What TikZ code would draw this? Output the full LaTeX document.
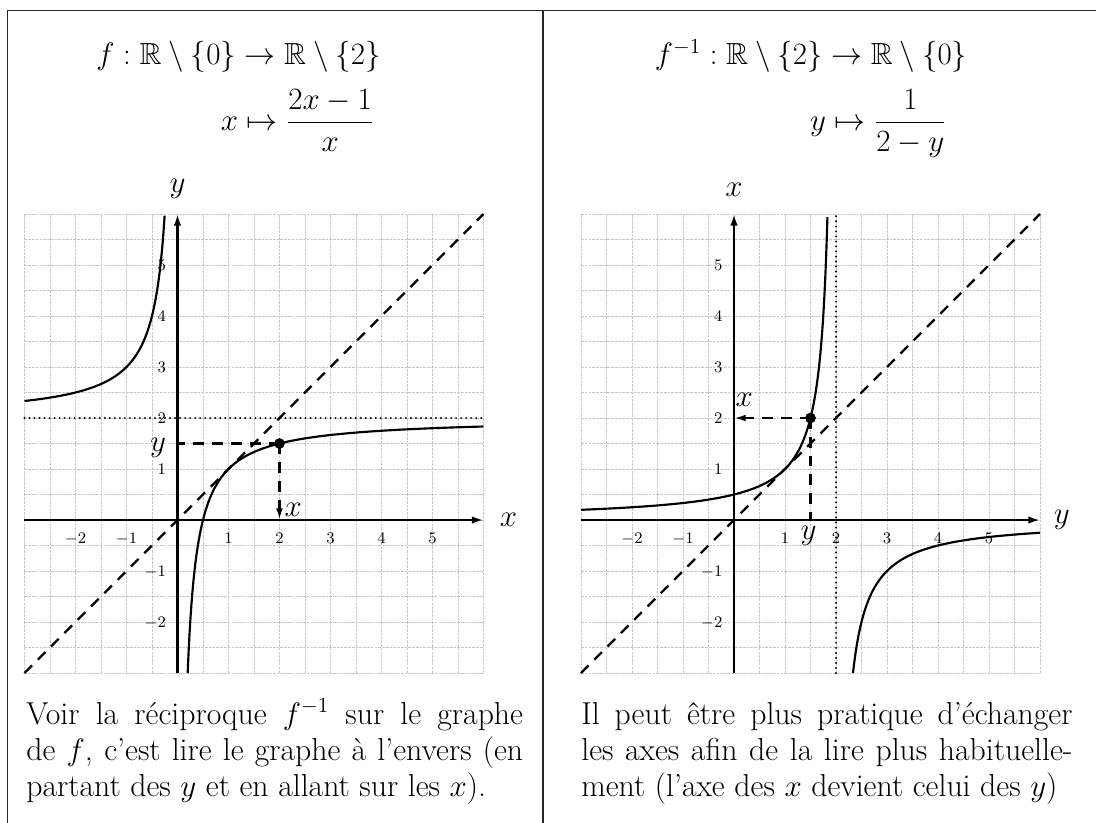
\documentclass[tikz,border=0pt]{standalone}
\usepackage{amsmath,amssymb}
\usetikzlibrary{arrows.meta}
\begin{document}
\begin{tikzpicture}[
  gridline/.style={line width=0.5pt, black!22, dash pattern=on 1.5pt off 0.6pt},
  axisline/.style={line width=1.5pt, -{Latex[length=6.5pt,width=4.2pt]}},
  curve/.style={line width=1.2pt},
  dashline/.style={line width=1.3pt, dash pattern=on 6pt off 4.5pt},
  dotline/.style={line width=1.2pt, line cap=round, dash pattern=on 0pt off 2.8pt},
  tick/.style={font=\fontsize{9.5}{11}\selectfont, inner sep=0pt},
  biglabel/.style={font=\fontsize{19}{22}\selectfont, inner sep=0pt},
  smalllabel/.style={font=\fontsize{16}{18}\selectfont, inner sep=0pt},
  titletext/.style={font=\fontsize{17}{20}\selectfont, inner sep=0pt, anchor=base},
  captionline/.style={font=\fontsize{17.7}{21}\selectfont, inner sep=0pt, anchor=base west},
  frameline/.style={line width=1.1pt, black!85},
  pointdot/.style={circle, fill=black, inner sep=0pt, minimum size=0.21cm},
]
\useasboundingbox (0,0) rectangle (21.490,-16.137);

% frame
\coordinate (fbl) at (0.147,-16.137);
\coordinate (ftl) at (0.147,-0.206);
\coordinate (ftr) at (21.490,-0.206);
\coordinate (fmt) at (10.641,-0.206);
\coordinate (fmb) at (10.641,-16.137);
\draw[frameline] (fbl) -- (ftl) -- (ftr);
\draw[frameline] (fmt) -- (fmb);

% titles
\node[titletext] (t1) at (4.676,-1.27) {$f : \mathbb{R}\setminus\{0\} \to \mathbb{R}\setminus\{2\}$};
\node[titletext] (t2) at (5.833,-2.55) {$x \mapsto \dfrac{2x-1}{x}$};
\node[titletext] (t3) at (15.902,-1.27) {$f^{-1} : \mathbb{R}\setminus\{2\} \to \mathbb{R}\setminus\{0\}$};
\node[titletext] (t4) at (17.222,-2.55) {$y \mapsto \dfrac{1}{2-y}$};

% ---------- left plot ----------
\begin{scope}[shift={(3.480,-10.196)}]
  \draw[gridline] (-3,-3) grid[step=0.5] (6,6);
  \coordinate (Lxs) at (-3,0); \coordinate (Lxe) at (6,0);
  \coordinate (Lys) at (0,-3); \coordinate (Lye) at (0,6);
  \draw[axisline] (Lxs) -- (Lxe);
  \draw[axisline] (Lys) -- (Lye);
  \foreach \k in {-2,-1,1,2,3,4,5} {
    \node[tick, anchor=base] (Lxt\k) at (\k,-0.47) {$\k$};
    \node[tick, anchor=base east] (Lyt\k) at (-0.22,{\k-0.11}) {$\k$};
  }
  \coordinate (Ld1) at (-3,2); \coordinate (Ld2) at (6,2);
  \draw[dotline] (Ld1) -- (Ld2);
  \coordinate (Lg1) at (-3,-3); \coordinate (Lg2) at (6,6);
  \draw[dashline] (Lg1) -- (Lg2);
  \draw[curve, domain=-3:-0.25, samples=200, smooth] plot (\x,{2-1/\x});
  \draw[curve, domain=0.2:6, samples=300, smooth] plot (\x,{2-1/\x});
  \coordinate (LP) at (2,1.5);
  \coordinate (LPy) at (0,1.5);
  \coordinate (LPx) at (2,0);
  \draw[dashline] (LP) -- (LPy);
  \draw[dashline, -{Latex[length=6.5pt,width=3.8pt]}] (LP) -- (LPx);
  \node[pointdot] (Ldot) at (LP) {};
  \node[biglabel] (Llx) at (6.49,0) {$x$};
  \node[biglabel, anchor=base] (Lly) at (0,6.43) {$y$};
  \node[biglabel] (Lyy) at (-0.38,1.42) {$y$};
  \node[smalllabel] (Lxx) at (2.27,0.2) {$x$};
\end{scope}

% ---------- right plot ----------
\begin{scope}[shift={(14.392,-10.196)}]
  \draw[gridline] (-3,-3) grid[step=0.5] (6,6);
  \coordinate (Rxs) at (-3,0); \coordinate (Rxe) at (6,0);
  \coordinate (Rys) at (0,-3); \coordinate (Rye) at (0,6);
  \draw[axisline] (Rxs) -- (Rxe);
  \draw[axisline] (Rys) -- (Rye);
  \foreach \k in {-2,-1,1,2,3,4,5} {
    \node[tick, anchor=base] (Rxt\k) at (\k,-0.47) {$\k$};
    \node[tick, anchor=base east] (Ryt\k) at (-0.22,{\k-0.11}) {$\k$};
  }
  \coordinate (Rd1) at (2,-3); \coordinate (Rd2) at (2,6);
  \draw[dotline] (Rd1) -- (Rd2);
  \coordinate (Rg1) at (-3,-3); \coordinate (Rg2) at (6,6);
  \draw[dashline] (Rg1) -- (Rg2);
  \draw[curve, domain=-3:1.83333, samples=300, smooth] plot (\x,{1/(2-\x)});
  \draw[curve, domain=2.33333:6, samples=200, smooth] plot (\x,{1/(2-\x)});
  \coordinate (RP) at (1.5,2);
  \coordinate (RPx) at (0,2);
  \coordinate (RPy) at (1.5,0);
  \draw[dashline, -{Latex[length=6.5pt,width=3.8pt]}] (RP) -- (RPx);
  \draw[dashline] (RP) -- (RPy);
  \node[pointdot] (Rdot) at (RP) {};
  \node[biglabel] (Rly) at (6.43,0) {$y$};
  \node[biglabel, anchor=base] (Rlx) at (0,6.34) {$x$};
  \node[biglabel] (Ryy) at (1.46,-0.31) {$y$};
  \node[smalllabel] (Rxx) at (0.2,2.36) {$x$};
\end{scope}

% captions
\node[captionline] (c1) at (0.510,-14.196) {\makebox[9.74cm][s]{Voir la réciproque $f^{-1}$ sur le graphe}};
\node[captionline] (c2) at (0.510,-14.902) {\makebox[9.74cm][s]{de $f$, c'est lire le graphe à l'envers (en}};
\node[captionline] (c3) at (0.510,-15.608) {partant des $y$ et en allant sur les $x$).};
\node[captionline] (c4) at (11.392,-14.196) {\makebox[9.63cm][s]{Il peut être plus pratique d'échanger}};
\node[captionline] (c5) at (11.392,-14.902) {\makebox[9.63cm][s]{les axes afin de la lire plus habituelle-}};
\node[captionline] (c6) at (11.392,-15.608) {ment (l'axe des $x$ devient celui des $y$)};
\end{tikzpicture}
\end{document}
